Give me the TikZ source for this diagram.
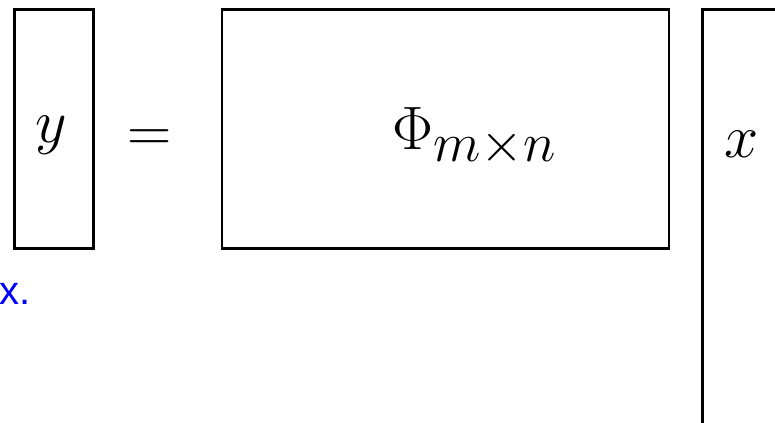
\documentclass[tikz,border=0pt]{standalone}
\usepackage{graphicx}
\usepackage{fontspec}
\newfontfamily\blueface{Liberation Sans}
\newcommand{\bigmath}[1]{\scalebox{1.85}{\Huge$#1$}}
\newcommand{\subbig}[1]{\scalebox{1.08}{$\scriptstyle #1$}}
\begin{document}
\begin{tikzpicture}[x=0.75pt,y=-0.75pt,
  matbox/.style={draw=black,line width=2.2pt},
  mathlbl/.style={inner sep=0pt},
  bluetxt/.style={inner sep=0pt,text=blue,font=\blueface\fontsize{30}{34}\selectfont}]
\useasboundingbox (0,0) rectangle (775,423);
\draw[matbox] (14.5,9.5) rectangle (93.5,248.5);
\draw[matbox] (222,9.5) rectangle (669,248.5);
\draw[matbox] (702.5,440) -- (702.5,9.5) -- (800,9.5);
\node[mathlbl,anchor=base] (ylbl) at (51,143) {\bigmath{y}};
\node[mathlbl,anchor=base] (eq) at (150,152) {\bigmath{=}};
\node[mathlbl,anchor=base west] (phi) at (392,150) {\bigmath{\Phi_{\subbig{m\times n}}}};
\node[mathlbl,anchor=base west] (xlbl) at (724,158) {\bigmath{x}};
\node[bluetxt,anchor=base east] (blue) at (31,305) {x.};
\end{tikzpicture}
\end{document}
